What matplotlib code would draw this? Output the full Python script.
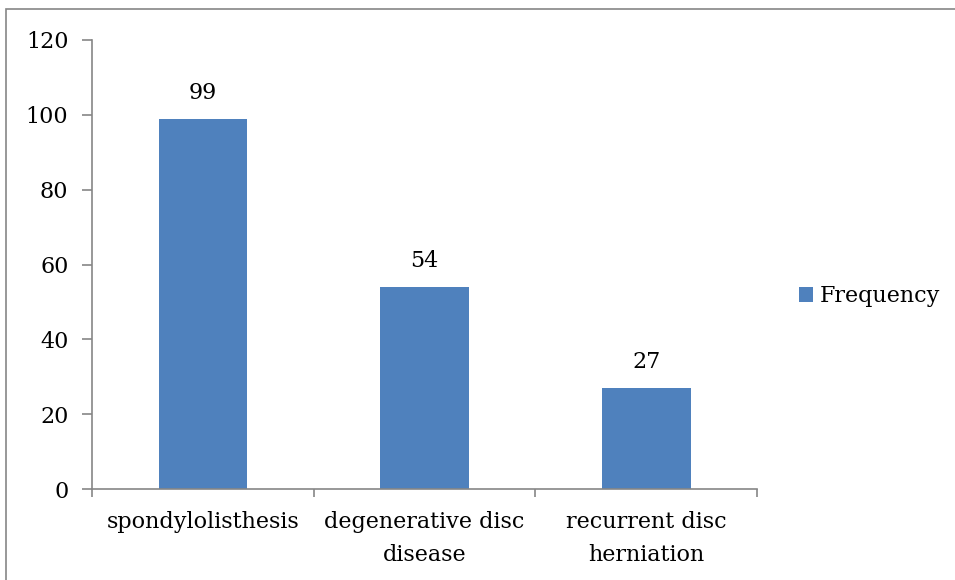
import matplotlib.pyplot as plt
from matplotlib.patches import Rectangle

categories = ["spondylolisthesis", "degenerative disc\ndisease", "recurrent disc\nherniation"]
frequency = [99, 54, 27]
yticks = [0, 20, 40, 60, 80, 100, 120]

plt.rcParams['font.family'] = ['DejaVu Serif']
bar_color = "#4F81BD"
axis_color = "#868686"
fs = 16

fig = plt.figure(figsize=(9.55, 5.8), dpi=100)
ax = fig.add_axes([92 / 955, 1 - 489 / 580, (757 - 92) / 955, (489 - 40) / 580])

# outer chart frame
fig.patches.append(Rectangle((6 / 955, -0.5), 2, 1 - 9 / 580 + 0.5,
                             transform=fig.transFigure, fill=False,
                             edgecolor=axis_color, linewidth=1.2))

x = range(len(categories))
bars = ax.bar(x, frequency, width=0.4, color=bar_color, label="Frequency")
for b, v in zip(bars, frequency):
    ax.text(b.get_x() + b.get_width() / 2, v + 4, str(v),
            ha="center", va="bottom", fontsize=fs)

ax.set_xlim(-0.5, len(categories) - 0.5)
ax.set_ylim(0, 120)
ax.set_yticks(yticks)
ax.set_yticklabels([str(t) for t in yticks], fontsize=fs)
ax.set_xticks([i - 0.5 for i in range(len(categories) + 1)])
ax.set_xticklabels([])
for i, c in enumerate(categories):
    ax.text(i, -5.8, c, ha="center", va="top", fontsize=fs,
            linespacing=1.65)

for side in ["top", "right"]:
    ax.spines[side].set_visible(False)
for side in ["left", "bottom"]:
    ax.spines[side].set_color(axis_color)
    ax.spines[side].set_linewidth(1.2)
ax.tick_params(axis="y", length=7, color=axis_color, width=1.2, pad=10)
ax.tick_params(axis="x", length=6, color=axis_color, width=1.2)

fig.legend(handles=[bars], labels=["Frequency"], loc="center left",
           bbox_to_anchor=(790 / 955, 1 - 296 / 580), frameon=False,
           fontsize=fs, handlelength=0.65, handleheight=0.65,
           handletextpad=0.3, borderaxespad=0)

fig.savefig("out.png", dpi=100)
